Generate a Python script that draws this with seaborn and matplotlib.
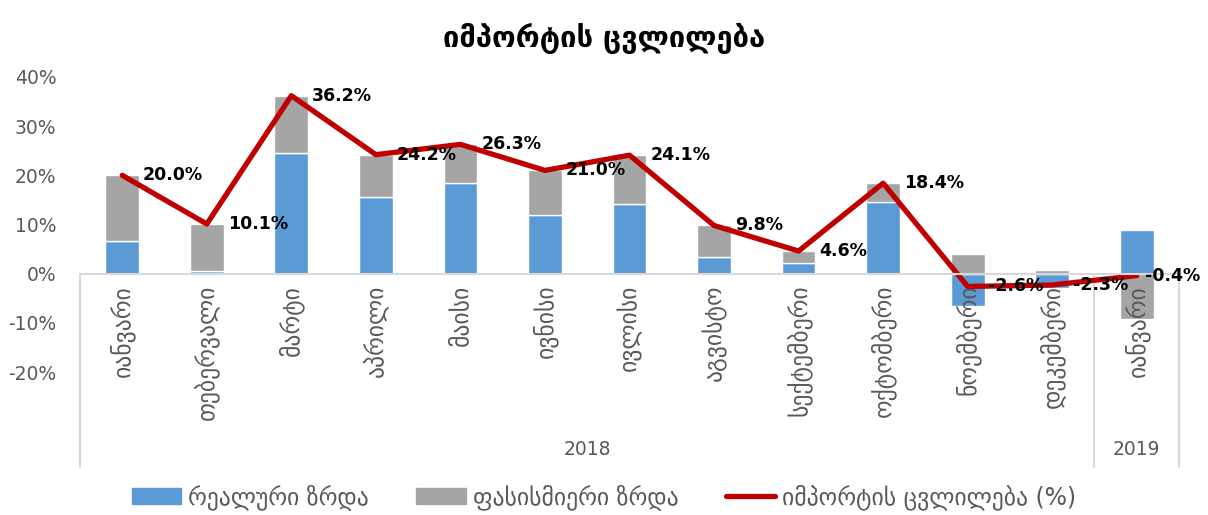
import numpy as np
import seaborn as sns
import matplotlib.pyplot as plt
from matplotlib.patches import Patch
from matplotlib.lines import Line2D
import matplotlib.transforms as mtransforms

# monthly import change, decomposed into real and price growth (%)
months = ["იანვარი", "თებერვალი", "მარტი", "აპრილი", "მაისი", "ივნისი", "ივლისი",
          "აგვისტო", "სექტემბერი", "ოქტომბერი", "ნოემბერი", "დეკემბერი", "იანვარი"]
years = ["2018", "2019"]
real_growth = [6.7, 0.5, 24.5, 15.6, 18.5, 12.0, 14.2, 3.4, 2.2, 14.6, -6.6, -3.0, 8.9]
price_growth = [13.3, 9.6, 11.7, 8.6, 7.8, 9.0, 9.9, 6.4, 2.4, 3.8, 4.0, 0.7, -9.3]
import_change = [20.0, 10.1, 36.2, 24.2, 26.3, 21.0, 24.1, 9.8, 4.6, 18.4, -2.6, -2.3, -0.4]

blue = "#5B9BD5"
gray = "#A5A5A5"
red = "#C00000"
txt = "#595959"

sns.set_theme(style="white")
plt.rcParams['font.family'] = ['DejaVu Sans']

pos = np.arange(len(months))
real = np.array(real_growth)
price = np.array(price_growth)
# excel-style stacking: negatives stack down from zero on their own
price_bottom = np.where(np.sign(real) == np.sign(price), real, 0)

fig = plt.figure(figsize=(12.08, 5.15), dpi=100)
ax = fig.add_axes([80/1208, 1 - 372/515, (1179 - 80)/1208, 295/515])

sns.barplot(x=pos, y=real, color=blue, width=0.4, saturation=1, ax=ax)
sns.barplot(x=pos, y=price, color=gray, width=0.4, saturation=1, bottom=price_bottom, ax=ax)
sns.lineplot(x=pos, y=import_change, color=red, linewidth=3.8, ax=ax)

for i, v in enumerate(import_change):
    dx = 15 if i < len(import_change) - 1 else 6
    ax.annotate(f"{v:.1f}%", (i, v), xytext=(dx, 0), textcoords="offset points",
                ha="left", va="center", fontsize=12.5, fontweight="bold", color="black", zorder=5)

for s in ["top", "right", "left"]:
    ax.spines[s].set_visible(False)
ax.spines["bottom"].set_position(("data", 0))
ax.spines["bottom"].set_color("#D9D9D9")
ax.spines["bottom"].set_linewidth(1.5)
ax.set_axisbelow(False)

ax.set_xlim(-0.5, 12.5)
ax.set_ylim(-20, 40)
ax.set_yticks(np.arange(-20, 41, 10))
ax.set_yticklabels([f"{t}%" for t in range(-20, 41, 10)], fontsize=13.5, color=txt)
ax.tick_params(axis="y", length=0, pad=17)

ax.set_xticks(pos)
ax.set_xticklabels(months, rotation=90, fontsize=17, color=txt)
ax.tick_params(axis="x", length=0, pad=8)
ax.set_xlabel("")
ax.set_ylabel("")

# year group lines and labels below the category axis
trans = mtransforms.blended_transform_factory(ax.transData, ax.transAxes)
y0 = 20 / 60
for xl in [-0.5, 11.5, 12.5]:
    ax.plot([xl, xl], [y0, -0.322], color="#D9D9D9", lw=1.5, transform=trans, clip_on=False, zorder=0)
ax.text(5.5, -0.262, years[0], transform=trans, ha="center", va="center", fontsize=13.5, color=txt)
ax.text(12, -0.262, years[1], transform=trans, ha="center", va="center", fontsize=13.5, color=txt)

fig.suptitle("იმპორტის ცვლილება", y=0.955, fontsize=21, fontweight="bold", color="black")

handles = [Patch(color=blue), Patch(color=gray), Line2D([0], [0], color=red, lw=3.8)]
labels = ["რეალური ზრდა", "ფასისმიერი ზრდა", "იმპორტის ცვლილება (%)"]
fig.legend(handles, labels, loc="center", bbox_to_anchor=(0.5, 1 - 497/515), ncol=3,
           frameon=False, fontsize=17, handlelength=2.1, handleheight=0.65,
           columnspacing=2.0, handletextpad=0.3, labelcolor=txt)

fig.savefig("out.png", dpi=100)
